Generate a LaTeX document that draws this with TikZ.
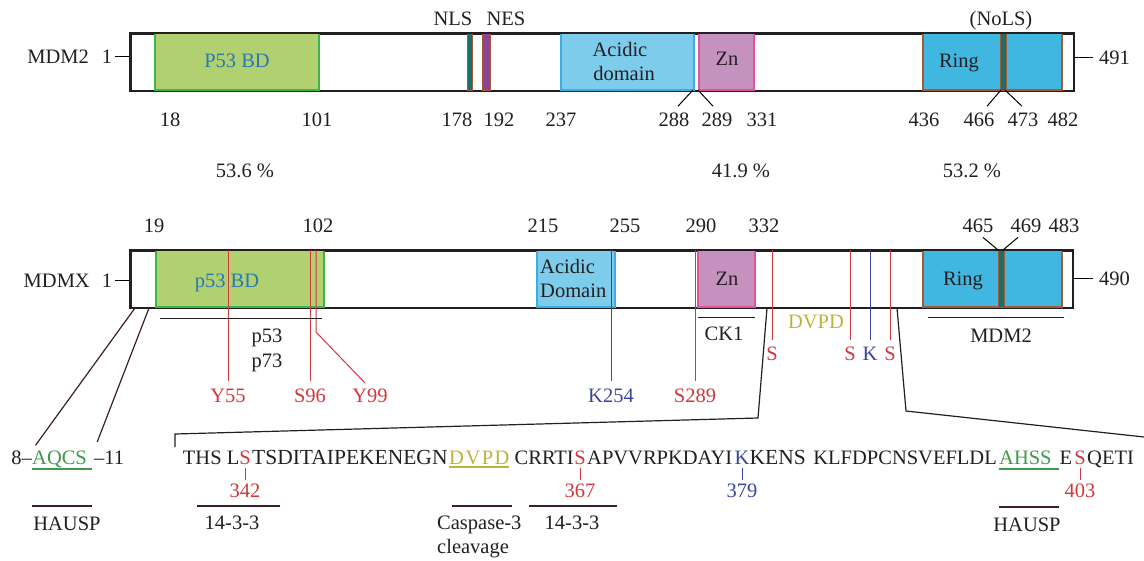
\documentclass[tikz,border=0pt]{standalone}
\usepackage{fontspec}
\setmainfont{Liberation Serif}
\usepackage{tikz}

\definecolor{ink}{HTML}{231F20}
\definecolor{bdgreen}{HTML}{B1D070}
\definecolor{bdedge}{HTML}{3CB54A}
\definecolor{bdtext}{HTML}{2A79B5}
\definecolor{acid}{HTML}{7DCCEC}
\definecolor{acidedge}{HTML}{3AAEE2}
\definecolor{znfill}{HTML}{C592C0}
\definecolor{znedge}{HTML}{E4519C}
\definecolor{ringfill}{HTML}{3FB7E1}
\definecolor{rust}{HTML}{A45A35}
\definecolor{nlsteal}{HTML}{17706A}
\definecolor{nespurple}{HTML}{8E4398}
\definecolor{modred}{HTML}{D0383D}
\definecolor{modblue}{HTML}{3B45A0}
\definecolor{olive}{HTML}{BDB23A}
\definecolor{hgreen}{HTML}{3C9A48}
\definecolor{darkline}{HTML}{3B1F22}

\begin{document}
\begin{tikzpicture}[x=1pt,y=-1pt,
		txt/.style={font=\fontsize{20.5}{24}\selectfont,text=ink,inner sep=0pt,anchor=base},
		widetxt/.style={txt,font=\fontsize{21.5}{24}\selectfont},
		barstyle/.style={draw=ink,line width=1.5pt,fill=white,inner sep=0pt,anchor=north west},
		dombox/.style={line width=1.2pt},
		stripe/.style={line width=1pt,draw=rust},
		site/.style={line width=1pt},
		uline/.style={line width=1.2pt,draw=darkline},
		zoomline/.style={draw=darkline,line width=1.2pt}]
	\useasboundingbox (0,0) rectangle (1144,560);
	
	% MDM2
	\node[barstyle,minimum width=943pt,minimum height=57pt] (m2bar) at (130,33) {};
	\filldraw[dombox,fill=bdgreen,draw=bdedge] (155,33) rectangle (319,90);
	\filldraw[stripe,fill=nlsteal] (467,33) rectangle (472,90);
	\filldraw[stripe,fill=nespurple] (482,33) rectangle (490,90);
	\filldraw[dombox,fill=acid,draw=acidedge] (561,33) rectangle (694,90);
	\filldraw[dombox,fill=znfill,draw=znedge] (699,33) rectangle (754,90);
	\filldraw[dombox,fill=ringfill,draw=rust] (923,33) rectangle (1062,90);
	\filldraw[stripe,fill=nlsteal] (1000,33) rectangle (1006,90);
	\draw[ink,line width=1.5pt] (m2bar.north west) rectangle (m2bar.south east);
	\node[txt,text=bdtext] (m2p53) at (237,67) {P53 BD};
	\node[txt] (m2acid) at (620,56) {Acidic};
	\node[txt] (m2dom) at (624,80) {domain};
	\node[txt] (m2zn) at (727,65) {Zn};
	\node[txt] (m2ring) at (959,67) {Ring};
	\node[txt] (nls) at (453,25) {NLS};
	\node[txt] (nes) at (506,25) {NES};
	\node[txt] (nols) at (1001,25) {(NoLS)};
	\node[txt,anchor=base east] (mdm2) at (89,63) {MDM2};
	\node[txt] (m2one) at (107,63) {1};
	\node[txt,anchor=base west] (m2end) at (1099,64) {491};
	\draw[site,shorten <=3pt] (m2one.east) -- (m2one.east -| m2bar.west);
	\draw[site,shorten >=6pt] (m2end.west -| m2bar.east) -- (m2end.west);
	\foreach \p/\x in {18/170,101/317,178/457,192/499,237/561,288/674,289/717,331/762,436/924,466/979,473/1023,482/1063}
		\node[txt] (m2n\p) at (\x,126) {\p};
	\foreach \p/\xa/\dx in {288/693/4,289/698/-4,466/1001/8,473/1005/-1}
		\draw[site] (\xa,90) -- ([xshift=\dx pt,yshift=6pt]m2n\p.north);
	
	\foreach \t/\x in {53.6/245,41.9/741,53.2/972}
		\node[txt] (pc\x) at (\x,177) {\t{} \%};
	
	% MDMX
	\node[barstyle,minimum width=942pt,minimum height=57pt] (mxbar) at (130,250) {};
	\filldraw[dombox,fill=bdgreen,draw=bdedge] (156,250) rectangle (324,307);
	\filldraw[dombox,fill=acid,draw=acidedge] (537,250) rectangle (615,307);
	\filldraw[dombox,fill=znfill,draw=znedge] (698,250) rectangle (755,307);
	\filldraw[dombox,fill=ringfill,draw=rust] (923,250) rectangle (1062,307);
	\filldraw[stripe,fill=nlsteal] (998,250) rectangle (1004,307);
	\draw[ink,line width=1.5pt] (mxbar.north west) rectangle (mxbar.south east);
	\node[txt,text=bdtext] (mxp53) at (227,287) {p53 BD};
	\node[txt,anchor=base west] (mxacid) at (540,273) {Acidic};
	\node[txt,anchor=base west] (mxdom) at (540,297) {Domain};
	\node[txt] (mxzn) at (727,285) {Zn};
	\node[txt] (mxring) at (963,285) {Ring};
	\node[txt,anchor=base east] (mdmx) at (90,287) {MDMX};
	\node[txt] (mxone) at (107,287) {1};
	\node[txt,anchor=base west] (mxend) at (1099,285) {490};
	\draw[site,shorten <=3pt] (mxone.east) -- (mxone.east -| mxbar.west);
	\draw[site,shorten >=6pt] (mxend.west -| mxbar.east) -- (mxend.west);
	\foreach \p/\x in {19/154,102/318,215/543,255/625,290/701,332/764,465/978,469/1026,483/1064}
		\node[txt] (mxn\p) at (\x,232) {\p};
	\draw[site] ([xshift=5pt,yshift=-5pt]mxn465.south) -- (998,250);
	\draw[site] ([xshift=-8pt,yshift=-5pt]mxn469.south) -- (1003,250);
	
	\foreach \n/\lab/\x/\col in {y55/Y55/228/modred,s96/S96/310/modred,k254/K254/611/modblue,s289/S289/695/modred}
	{	\node[txt,text=\col] (\n) at (\x,402) {\lab};
		\draw[site,draw=\col,shorten >=7pt] (\x,250) -- (\n.north);}
	\node[txt,text=modred] (y99) at (370,402) {Y99};
	\draw[site,draw=modred,shorten >=7pt] (316,250) -- (316,332) -- (y99.north);
	\foreach \n/\lab/\x/\col in {sa/S/772/modred,sb/S/850/modred,kb/K/870/modblue,sc/S/890/modred}
	{	\node[txt,text=\col] (\n) at (\x,360) {\lab};
		\draw[site,draw=\col,shorten >=6pt] (\x,250) -- (\n.north);}
	\node[txt,text=olive] (dvpdlab) at (816,328) {DVPD};
	
	\draw[site,ink] (160,318) -- (322,318);
	\node[txt] (p53) at (267,342) {p53};
	\node[txt] (p73) at (267,367) {p73};
	\draw[site,ink] (698,317) -- (755,317);
	\node[txt] (ck1) at (724,340) {CK1};
	\draw[site,ink] (928,317) -- (1064,317);
	\node[txt] (mdm2bind) at (1001,342) {MDM2};
	
	% zoom in on the sequence
	\node[txt,anchor=base east] (n8) at (32,464) {8--};
	\node[txt,anchor=base west,text=hgreen] (aqcs) at (32,464) {AQCS};
	\node[txt,anchor=base west] (n11) at (94,464) {--11};
	\draw[line width=1.8pt,hgreen] (32,469) -- (92,469);
	\draw[zoomline,shorten >=6pt] (135,308) -- (n8.north east);
	\draw[zoomline,shorten >=9pt] (149,308) -- (n11.north west);
	\coordinate (za) at (767,308);
	\coordinate (zb) at (758,418);
	\coordinate (zc) at (175,434);
	\coordinate (zd) at (175,447);
	\draw[zoomline,ink] (za) -- (zb) -- (zc) -- (zd);
	\coordinate (ze) at (897,308);
	\coordinate (zf) at (906,411);
	\coordinate (zg) at (1144,437);
	\draw[zoomline,ink] (ze) -- (zf) -- (zg);
	
	\node[txt,anchor=base east] (sq1) at (239.5,464) {THS L};
	\node[txt,text=modred] (s342) at (245,464) {S};
	\node[widetxt,anchor=base west] (sq2) at (252,464) {TSDITAIPEKENEGN};
	\node[txt,anchor=base west,text=olive] (dvpd) at (449,464) {D\kern1.5pt V\kern1.5pt P\kern1.5pt D};
	\node[txt,anchor=base east] (sq3) at (574,464) {CRRTI};
	\node[txt,text=modred] (s367) at (580,464) {S};
	\node[txt,anchor=base west] (sq4) at (587,464) {APVVRPKDAYI};
	\node[txt,text=modblue] (k379) at (742,464) {K};
	\node[widetxt,anchor=base west] (sq5) at (749.5,464) {KENS};
	\node[txt,anchor=base east] (sq6) at (997,464) {KLFDPCNSVEFLDL};
	\node[txt,anchor=base west,text=hgreen] (ahss) at (999,464) {AHSS};
	\node[txt] (e402) at (1066,464) {E};
	\node[txt,text=modred] (s403) at (1080,464) {S};
	\node[txt,anchor=base west] (sq7) at (1087,464) {QETI};
	\draw[line width=1.5pt,olive] (449,467) -- (509,467);
	\draw[line width=1.8pt,hgreen] (999,469) -- (1059,469);
	
	\foreach \n/\x/\col in {342/245/modred,367/580/modred,379/742/modblue,403/1080/modred}
		\node[txt,text=\col] (n\n) at (\x,497) {\n};
	\draw[site,modred,shorten <=4pt,shorten >=3pt] (s342.south) -- (n342.north);
	\draw[site,modred,shorten <=4pt,shorten >=3pt] (s367.south) -- (n367.north);
	\draw[site,modblue,shorten <=4pt,shorten >=3pt] (k379.south) -- (n379.north);
	\draw[site,modred,shorten <=4pt,shorten >=3pt] (s403.south) -- (n403.north);
	
	\draw[uline] (32,506) -- (92,506);
	\node[txt] (hausp1) at (67,530) {HAUSP};
	\draw[uline] (197,506) -- (280,506);
	\node[txt] (bind1) at (232,529) {14-3-3};
	\draw[uline] (452,506) -- (512,506);
	\node[txt,anchor=base west] (casp) at (437,529) {Caspase-3};
	\node[txt,anchor=base west] (cleav) at (437,553) {cleavage};
	\draw[uline] (529,506) -- (617,506);
	\node[txt] (bind2) at (572,529) {14-3-3};
	\draw[uline] (999,507) -- (1059,507);
	\node[txt] (hausp2) at (1027,531) {HAUSP};
\end{tikzpicture}
\end{document}
